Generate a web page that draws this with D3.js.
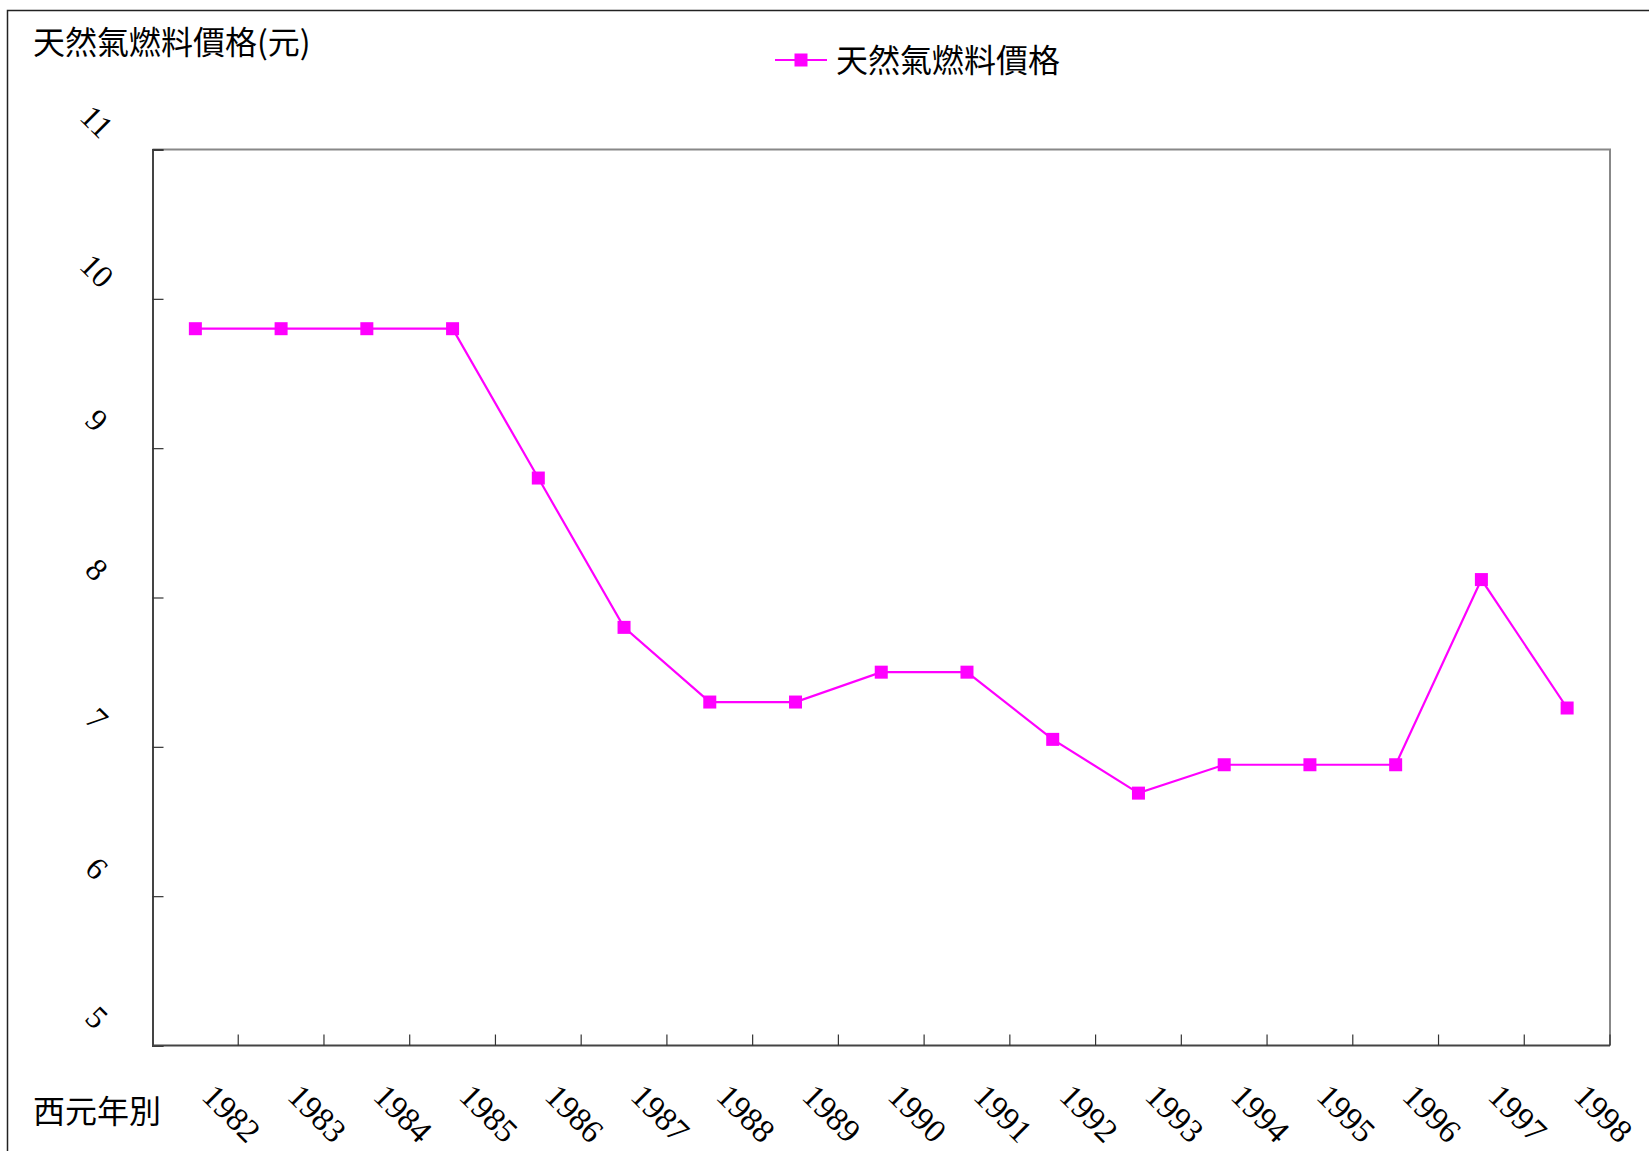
<!DOCTYPE html>
<html>
<head>
<meta charset="utf-8">
<script src="https://cdn.jsdelivr.net/npm/d3@7"></script>
<style>
  body { margin: 0; background: #fff; }
  .cjk { font-family: "Noto Sans CJK TC", "Noto Sans CJK SC", sans-serif; }
  .num { font-family: "Liberation Serif", "DejaVu Serif", serif; }
</style>
</head>
<body>
<div id="chart"></div>
<script>
// data
var years = ["1982","1983","1984","1985","1986","1987","1988","1989","1990",
             "1991","1992","1993","1994","1995","1996","1997","1998"];
var prices = [9.80, 9.80, 9.80, 9.80, 8.80, 7.80, 7.30, 7.30, 7.50,
              7.50, 7.05, 6.69, 6.88, 6.88, 6.88, 8.12, 7.26];
var yTicks = [5, 6, 7, 8, 9, 10, 11];
var seriesName = "天然氣燃料價格";
var yTitle = "天然氣燃料價格(元)";
var xTitle = "西元年別";

var W = 1649, H = 1151;
var plot = {left: 152.5, top: 149.5, right: 1610, bottom: 1045.5};
var magenta = "#ff00ff";

var svg = d3.select("#chart").append("svg")
  .attr("width", W)
  .attr("height", H);

// outer frame (only left and top show)
svg.append("rect")
  .attr("x", 7.5).attr("y", 10.5)
  .attr("width", W + 20).attr("height", H + 20)
  .attr("fill", "none")
  .attr("stroke", "#222")
  .attr("stroke-width", 1.5);

var x = d3.scaleBand().domain(years).range([plot.left, plot.right]);
var y = d3.scaleLinear().domain([5, 11]).range([plot.bottom, plot.top]);

// plot box: top and right gray
svg.append("path")
  .attr("d", "M" + plot.left + "," + plot.top + "H" + plot.right + "V" + plot.bottom)
  .attr("fill", "none")
  .attr("stroke", "#888")
  .attr("stroke-width", 2);

// y axis, ticks inside
var yAxis = d3.axisRight(y).tickValues(yTicks).tickSize(11).tickFormat("");
var gy = svg.append("g").attr("transform", "translate(" + plot.left + ",0)").call(yAxis);
gy.select(".domain").attr("stroke", "#444").attr("stroke-width", 2);
gy.selectAll(".tick line").attr("stroke", "#333").attr("stroke-width", 1.2);

// x axis: ticks between categories, pointing up
var boundaries = years.slice(1).map(function(d) { return x(d); }).concat([plot.right]);
var gx = svg.append("g");
gx.append("line")
  .attr("x1", plot.left).attr("x2", plot.right)
  .attr("y1", plot.bottom).attr("y2", plot.bottom)
  .attr("stroke", "#444").attr("stroke-width", 2);
gx.selectAll("line.tk")
  .data(boundaries)
  .enter()
  .append("line")
  .attr("class", "tk")
  .attr("x1", function(d) { return d; })
  .attr("x2", function(d) { return d; })
  .attr("y1", plot.bottom)
  .attr("y2", plot.bottom - 11)
  .attr("stroke", "#333").attr("stroke-width", 1.2);

// y tick labels, tilted
svg.selectAll("text.ylab")
  .data(yTicks)
  .enter()
  .append("text")
  .attr("class", "ylab num")
  .attr("text-anchor", "middle")
  .attr("dominant-baseline", "central")
  .attr("font-size", 32)
  .attr("transform", function(d) {
    return "translate(97," + (y(d) - 28) + ") rotate(45)";
  })
  .text(function(d) { return d; });

// x tick labels, tilted
svg.selectAll("text.xlab")
  .data(years)
  .enter()
  .append("text")
  .attr("class", "xlab num")
  .attr("font-size", 33)
  .attr("transform", function(d) {
    return "translate(" + (x(d) + x.bandwidth() / 2 + 5) + ",1098) rotate(45)";
  })
  .text(function(d) { return d; });

// line
var line = d3.line()
  .x(function(d, i) { return x(years[i]) + x.bandwidth() / 2; })
  .y(function(d) { return y(d); });

svg.append("path")
  .datum(prices)
  .attr("d", line)
  .attr("fill", "none")
  .attr("stroke", magenta)
  .attr("stroke-width", 2.2);

var ms = 13;
svg.selectAll("rect.pt")
  .data(prices)
  .enter()
  .append("rect")
  .attr("class", "pt")
  .attr("x", function(d, i) { return x(years[i]) + x.bandwidth() / 2 - ms / 2; })
  .attr("y", function(d) { return y(d) - ms / 2; })
  .attr("width", ms).attr("height", ms)
  .attr("fill", magenta);

// titles
svg.append("text")
  .attr("class", "cjk")
  .attr("x", 33).attr("y", 54)
  .attr("font-size", 32)
  .text(yTitle);

svg.append("text")
  .attr("class", "cjk")
  .attr("x", 33).attr("y", 1123)
  .attr("font-size", 32)
  .text(xTitle);

// legend
var lg = svg.append("g").attr("transform", "translate(775,60)");
lg.append("line")
  .attr("x1", 0).attr("x2", 52).attr("y1", 0).attr("y2", 0)
  .attr("stroke", magenta).attr("stroke-width", 2.2);
lg.append("rect")
  .attr("x", 26 - ms / 2).attr("y", -ms / 2)
  .attr("width", ms).attr("height", ms)
  .attr("fill", magenta);
lg.append("text")
  .attr("class", "cjk")
  .attr("x", 61).attr("y", 12)
  .attr("font-size", 32)
  .text(seriesName);
</script>
</body>
</html>
